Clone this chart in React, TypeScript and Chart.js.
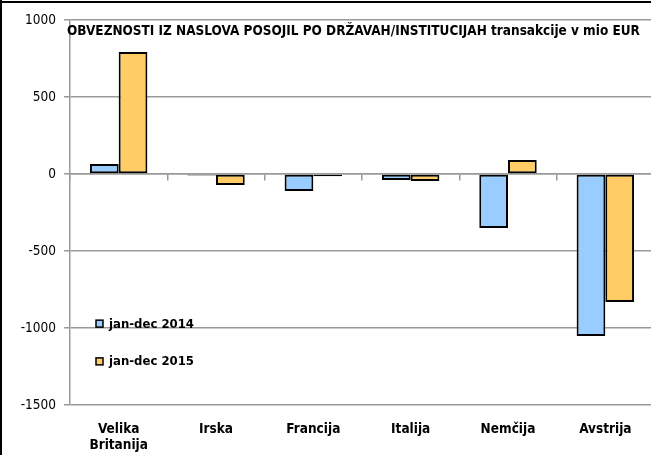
import React, { useEffect, useRef } from "react";
import { Chart, registerables } from "chart.js";

Chart.register(...registerables);

const categories = [["Velika", "Britanija"], "Irska", "Francija", "Italija", "Nemčija", "Avstrija"];
const series2014 = [65, -10, -110, -39, -351, -1052];
const series2015 = [792, -71, -15, -45, 91, -831];
const seriesLabels = ["jan-dec 2014", "jan-dec 2015"];
const titleText = "OBVEZNOSTI IZ NASLOVA POSOJIL PO DRŽAVAH/INSTITUCIJAH transakcije v mio EUR";

const FONT = "'Liberation Sans Narrow', 'DejaVu Sans Condensed', 'Arial Narrow', sans-serif";

const decorPlugin = {
  id: "decor",
  afterDraw(chart: any) {
    const ctx = chart.ctx;
    const ca = chart.chartArea;
    ctx.save();
    // frame
    ctx.fillStyle = "#000";
    ctx.fillRect(0, 0, 2, chart.height);
    ctx.fillRect(0, 1, chart.width, 2);
    // title
    let size = 13;
    ctx.font = `bold ${size}px ${FONT}`;
    const w = ctx.measureText(titleText).width;
    size = size * 573 / w;
    ctx.font = `bold ${size}px ${FONT}`;
    ctx.fillStyle = "#000";
    ctx.textBaseline = "middle";
    ctx.textAlign = "left";
    ctx.fillText(titleText, ca.left - 3, ca.top + 11);
    // legend
    const ys = [0.79, 0.888];
    chart.data.datasets.forEach((ds: any, i: number) => {
      const y = ca.top + ca.height * ys[i];
      const x = ca.left + 26;
      ctx.fillStyle = ds.backgroundColor;
      ctx.fillRect(x, y - 4, 7, 7);
      ctx.strokeStyle = "#000";
      ctx.lineWidth = 1.5;
      ctx.strokeRect(x, y - 4, 7, 7);
      ctx.fillStyle = "#000";
      ctx.font = `bold 13px ${FONT}`;
      ctx.fillText(ds.label, x + 13, y);
    });
    ctx.restore();
  },
};

export default function App() {
  const ref = useRef<HTMLCanvasElement>(null);
  useEffect(() => {
    document.body.style.margin = "0";
    const chart = new Chart(ref.current!, {
      type: "bar",
      data: {
        labels: categories as any,
        datasets: [
          {
            label: seriesLabels[0],
            data: series2014,
            backgroundColor: "#99CCFF",
            borderColor: "#000",
            borderWidth: 2,
            borderSkipped: false,
            categoryPercentage: 0.59,
            barPercentage: 1,
          },
          {
            label: seriesLabels[1],
            data: series2015,
            backgroundColor: "#FFCC66",
            borderColor: "#000",
            borderWidth: 2,
            borderSkipped: false,
            categoryPercentage: 0.59,
            barPercentage: 1,
          },
        ],
      },
      options: {
        animation: false,
        responsive: false,
        layout: { padding: { top: 20, right: 6, left: 0, bottom: 0 } },
        plugins: { legend: { display: false }, title: { display: false }, tooltip: { enabled: false } },
        scales: {
          x: {
            grid: { display: false },
            border: { display: false },
            ticks: {
              color: "#000",
              font: { family: FONT, size: 13.5, weight: "bold" },
              padding: 8,
              maxRotation: 0,
              autoSkip: false,
            },
            afterFit(s: any) {
              s.height = 50;
            },
          },
          x2: {
            type: "category",
            position: { y: 0 } as any,
            grid: { display: true, drawOnChartArea: false, drawTicks: true, tickLength: 6, color: "#999", lineWidth: 1.5, offset: true },
            border: { display: true, color: "#999", width: 1.5 },
            ticks: { display: false },
          },
          y: {
            min: -1500,
            max: 1000,
            ticks: {
              stepSize: 500,
              color: "#000",
              font: { family: FONT, size: 13.5 },
              padding: 8,
              callback: (v: any) => String(v),
            },
            grid: { color: "#999", lineWidth: 1.5, tickLength: 6 },
            border: { display: true, color: "#999", width: 1.5 },
            afterFit(s: any) {
              s.width = 70;
            },
          },
        },
      },
      plugins: [decorPlugin],
    });
    return () => chart.destroy();
  }, []);
  return (
    <div style={{ width: 651, height: 455, overflow: "hidden", background: "#fff" }}>
      <canvas ref={ref} width={660} height={455} style={{ display: "block" }} />
    </div>
  );
}
